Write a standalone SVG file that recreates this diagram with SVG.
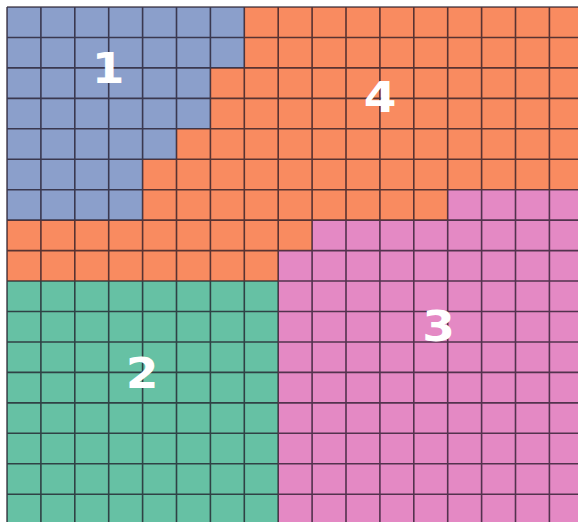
<svg xmlns="http://www.w3.org/2000/svg" width="578" height="522" viewBox="0 0 578 522">
<style>
.lbl{font-family:"DejaVu Sans","Liberation Sans",sans-serif;font-weight:bold;font-size:42px;fill:#ffffff;text-anchor:middle}
.grid{fill:none;stroke:#1a1020;stroke-opacity:0.72;stroke-width:1.6}
</style>
<rect x="0" y="0" width="578" height="522" fill="#ffffff"/>
<g id="region-4">
<rect x="7" y="7" width="571" height="515" fill="#F98B60"/>
</g>
<g id="region-1">
<polygon points="7,7 244.3,7 244.3,67.9 210.4,67.9 210.4,128.8 176.5,128.8 176.5,159.25 142.6,159.25 142.6,220.15 7,220.15" fill="#8B9FCB"/>
</g>
<g id="region-2">
<rect x="7" y="281.05" width="271.2" height="241" fill="#66C1A4"/>
</g>
<g id="region-3">
<polygon points="447.7,189.7 578,189.7 578,522 278.2,522 278.2,250.6 312.1,250.6 312.1,220.15 447.7,220.15" fill="#E489C4"/>
</g>
<g id="gridlines">
<path class="grid" d="M7,7V522M40.9,7V522M74.8,7V522M108.7,7V522M142.6,7V522M176.5,7V522M210.4,7V522M244.3,7V522M278.2,7V522M312.1,7V522M346,7V522M379.9,7V522M413.8,7V522M447.7,7V522M481.6,7V522M515.5,7V522M549.4,7V522M7,7H578M7,37.45H578M7,67.9H578M7,98.35H578M7,128.8H578M7,159.25H578M7,189.7H578M7,220.15H578M7,250.6H578M7,281.05H578M7,311.5H578M7,341.95H578M7,372.4H578M7,402.85H578M7,433.3H578M7,463.75H578M7,494.2H578"/>
</g>
<g id="labels">
<text class="lbl" transform="translate(108,83) scale(1.12,1)">1</text>
<text class="lbl" transform="translate(380,112) scale(1.12,1)">4</text>
<text class="lbl" transform="translate(438.5,341) scale(1.12,1)">3</text>
<text class="lbl" transform="translate(142,388) scale(1.12,1)">2</text>
</g>
</svg>
